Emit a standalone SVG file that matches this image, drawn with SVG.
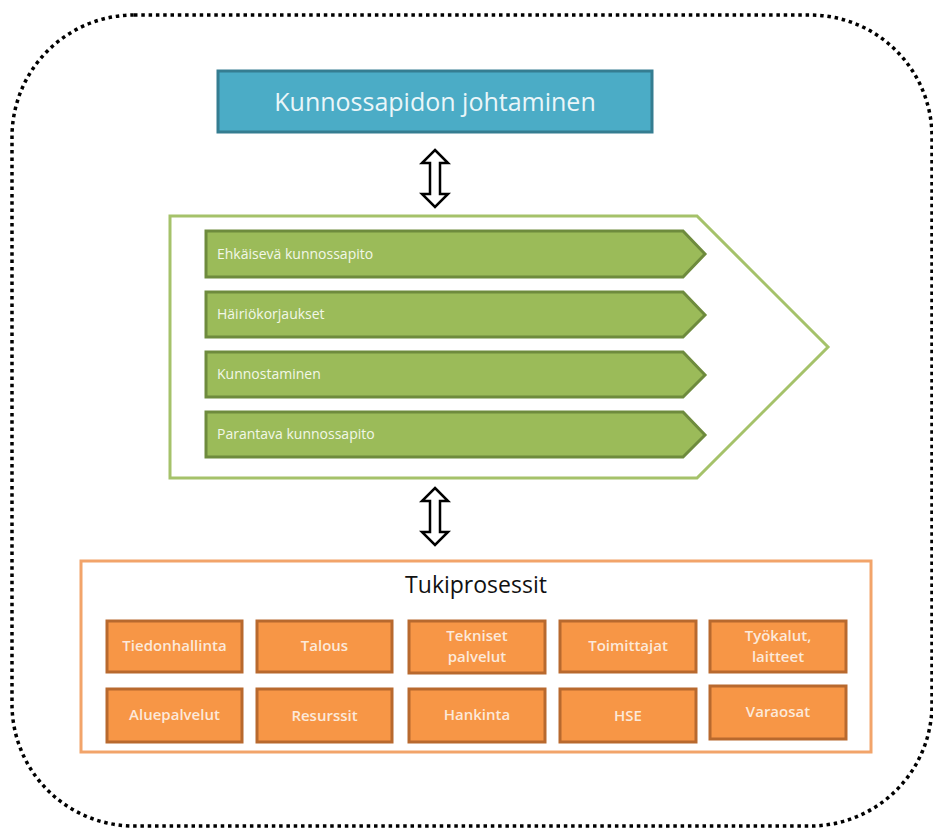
<svg xmlns="http://www.w3.org/2000/svg" width="933" height="828" viewBox="0 0 933 828">
  <style>
    .frame { fill: none; stroke: #000; stroke-width: 3.5; stroke-dasharray: 3.5 3.8; stroke-linecap: butt; }
    .head { fill: #4BACC6; stroke: #357D91; stroke-width: 3; }
    .headtxt { font-family: "Open Sans", "Liberation Sans", sans-serif; font-size: 25px; fill: #EAF6F9; text-anchor: middle; }
    .chev { fill: #fff; stroke: #A5C26A; stroke-width: 3; }
    .step { fill: #9BBB59; stroke: #6E8B3D; stroke-width: 3; }
    .steptxt { font-family: "Open Sans", "Liberation Sans", sans-serif; font-size: 14px; fill: #F2F7E8; }
    .dbl { fill: #fff; stroke: #000; stroke-width: 2.5; stroke-linejoin: miter; }
    .sup { fill: #fff; stroke: #F2A46A; stroke-width: 3; }
    .suptitle { font-family: "Open Sans", "Liberation Sans", sans-serif; font-size: 23px; fill: #111; text-anchor: middle; }
    .box { fill: #F79646; stroke: #B8692E; stroke-width: 3; }
    .boxtxt { font-family: "Open Sans", "Liberation Sans", sans-serif; font-size: 15px; font-weight: 600; fill: #FCE9DA; text-anchor: middle; }
  </style>
  <defs>
    <!-- hollow double-headed arrow, centred on x=0, spanning y 0..57 -->
    <path id="dblArrow" d="M0,0 L13,13 L5,13 L5,44 L13,44 L0,57 L-13,44 L-5,44 L-5,13 L-13,13 Z"/>
  </defs>

  <!-- dotted outer frame -->
  <rect class="frame" x="12" y="15" width="920" height="811" rx="122" ry="122"/>

  <g id="management">
    <rect class="head" x="218" y="71" width="434" height="61"/>
    <text class="headtxt" x="435" y="111">Kunnossapidon johtaminen</text>
  </g>

  <g id="connectors">
    <use href="#dblArrow" class="dbl" x="435" y="150"/>
    <use href="#dblArrow" class="dbl" x="435" y="488"/>
  </g>

  <g id="maintenance">
    <polygon class="chev" points="170,216 697,216 828,347 697,478 170,478"/>
    <g id="step-preventive">
      <polygon class="step" points="206,231 683,231 705,254 683,277 206,277"/>
      <text class="steptxt" x="217" y="259">Ehkäisevä kunnossapito</text>
    </g>
    <g id="step-corrective">
      <polygon class="step" points="206,292 683,292 705,315 683,337 206,337"/>
      <text class="steptxt" x="217" y="319">Häiriökorjaukset</text>
    </g>
    <g id="step-restoration">
      <polygon class="step" points="206,352 683,352 705,375 683,397 206,397"/>
      <text class="steptxt" x="217" y="379">Kunnostaminen</text>
    </g>
    <g id="step-improvement">
      <polygon class="step" points="206,412 683,412 705,435 683,457 206,457"/>
      <text class="steptxt" x="217" y="439">Parantava kunnossapito</text>
    </g>
  </g>

  <g id="support">
    <rect class="sup" x="81" y="561" width="790" height="191"/>
    <text class="suptitle" x="476" y="593">Tukiprosessit</text>

    <g id="box-tiedonhallinta">
      <rect class="box" x="107" y="621" width="135" height="51"/>
      <text class="boxtxt" x="174.5" y="651">Tiedonhallinta</text>
    </g>
    <g id="box-talous">
      <rect class="box" x="257" y="621" width="135" height="51"/>
      <text class="boxtxt" x="324.5" y="651">Talous</text>
    </g>
    <g id="box-tekniset">
      <rect class="box" x="409" y="621" width="136" height="52"/>
      <text class="boxtxt" x="477" y="641">Tekniset</text>
      <text class="boxtxt" x="477" y="662">palvelut</text>
    </g>
    <g id="box-toimittajat">
      <rect class="box" x="560" y="621" width="136" height="51"/>
      <text class="boxtxt" x="628" y="651">Toimittajat</text>
    </g>
    <g id="box-tyokalut">
      <rect class="box" x="710" y="621" width="136" height="51"/>
      <text class="boxtxt" x="778" y="641">Työkalut,</text>
      <text class="boxtxt" x="778" y="662">laitteet</text>
    </g>

    <g id="box-aluepalvelut">
      <rect class="box" x="107" y="689" width="135" height="53"/>
      <text class="boxtxt" x="174.5" y="720">Aluepalvelut</text>
    </g>
    <g id="box-resurssit">
      <rect class="box" x="257" y="689" width="135" height="53"/>
      <text class="boxtxt" x="324.5" y="721">Resurssit</text>
    </g>
    <g id="box-hankinta">
      <rect class="box" x="409" y="689" width="136" height="53"/>
      <text class="boxtxt" x="477" y="720">Hankinta</text>
    </g>
    <g id="box-hse">
      <rect class="box" x="560" y="689" width="136" height="53"/>
      <text class="boxtxt" x="628" y="721">HSE</text>
    </g>
    <g id="box-varaosat">
      <rect class="box" x="710" y="686" width="136" height="53"/>
      <text class="boxtxt" x="778" y="717">Varaosat</text>
    </g>
  </g>
</svg>
